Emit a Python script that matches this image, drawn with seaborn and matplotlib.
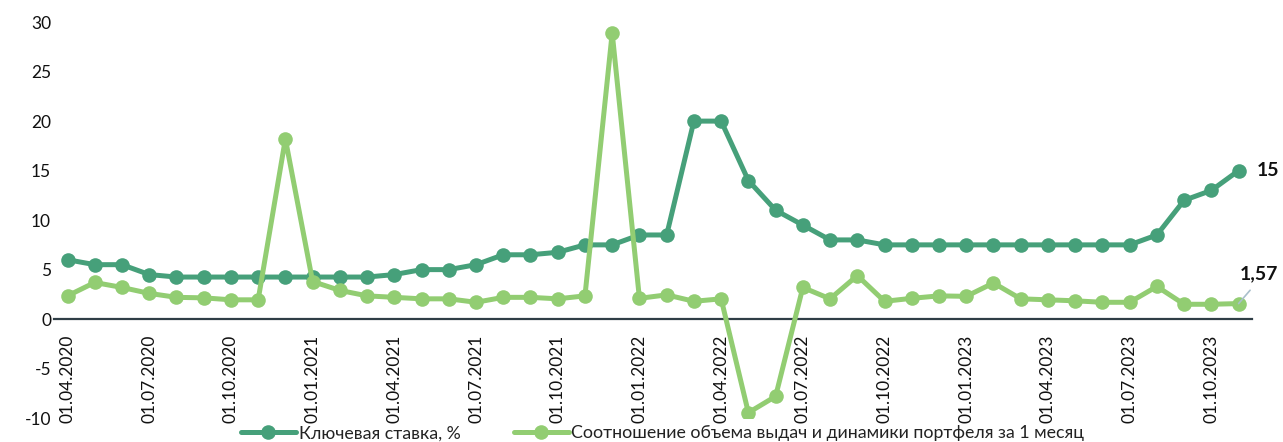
import matplotlib
matplotlib.use("Agg")
import matplotlib.pyplot as plt
import seaborn as sns
import pandas as pd

# Monthly observation dates, 01.04.2020 .. 01.11.2023
dates = pd.date_range("2020-04-01", "2023-11-01", freq="MS")
date_labels = [d.strftime("%d.%m.%Y") for d in dates]

key_rate = [6, 5.5, 5.5, 4.5, 4.25, 4.25, 4.25, 4.25, 4.25,
            4.25, 4.25, 4.25, 4.5, 5, 5, 5.5, 6.5, 6.5, 6.75, 7.5, 7.5,
            8.5, 8.5, 20, 20, 14, 11, 9.5, 8, 8, 7.5, 7.5, 7.5,
            7.5, 7.5, 7.5, 7.5, 7.5, 7.5, 7.5, 8.5, 12, 13, 15]

issue_ratio = [2.35, 3.7, 3.2, 2.6, 2.2, 2.15, 1.95, 1.95, 18.2,
               3.8, 2.9, 2.35, 2.2, 2.05, 2.05, 1.7, 2.2, 2.2, 2.05, 2.35, 28.9,
               2.1, 2.45, 1.8, 2.05, -9.45, -7.8, 3.2, 2.05, 4.4, 1.8, 2.1, 2.35,
               2.3, 3.65, 2.05, 1.95, 1.85, 1.7, 1.7, 3.3, 1.5, 1.5, 1.57]

series_names = ["Ключевая ставка, %",
                "Соотношение объема выдач и динамики портфеля за 1 месяц"]
colors = ["#46A07A", "#92CD72"]

n = len(dates)
df = pd.DataFrame({
    "idx": list(range(n)) * 2,
    "value": key_rate + issue_ratio,
    "series": [series_names[0]] * n + [series_names[1]] * n,
})

sns.set_theme(style="white")
plt.rcParams["font.family"] = ["Lato", "DejaVu Sans"]

fig = plt.figure(figsize=(12.83, 4.42), dpi=100)
ax = fig.add_axes([0.042, 0.054, 0.934, 0.896])

sns.lineplot(data=df, x="idx", y="value", hue="series", palette=colors,
             hue_order=series_names, marker="o", markersize=10.5,
             markeredgewidth=0, linewidth=3.6, ax=ax, legend=True)

ax.set_xlim(-0.5, n - 0.5)
ax.set_ylim(-10, 30)
ax.set_xlabel("")
ax.set_ylabel("")

# Category axis sits on the zero line
for side in ["top", "right", "left"]:
    ax.spines[side].set_visible(False)
ax.spines["bottom"].set_position(("data", 0))
ax.spines["bottom"].set_color("#2F3E46")
ax.spines["bottom"].set_linewidth(1.6)
ax.spines["bottom"].set_zorder(1)

ax.set_yticks(range(-10, 31, 5))
ax.set_yticklabels([str(v) for v in range(-10, 31, 5)])
tick_pos = list(range(0, n, 3))
ax.set_xticks(tick_pos)
ax.set_xticklabels([date_labels[i] for i in tick_pos])

ax.tick_params(axis="both", length=0, labelsize=12.5, labelcolor="#111111")
ax.tick_params(axis="x", pad=11, labelrotation=90)
ax.tick_params(axis="y", pad=2)
ax.grid(False)

# Value labels for the latest observations
ax.annotate(f"{key_rate[-1]:g}", xy=(n - 1, key_rate[-1]), xytext=(13, 0),
            textcoords="offset points", ha="left", va="center",
            fontsize=14, fontweight="bold", color="#111111")
ax.annotate(f"{issue_ratio[-1]:.2f}".replace(".", ","),
            xy=(n - 1, issue_ratio[-1]), xytext=(0.5, 15),
            textcoords="offset points", ha="left", va="bottom",
            fontsize=14, fontweight="bold", color="#111111",
            arrowprops=dict(arrowstyle="-", color="#A9BFCB", lw=1.2,
                            shrinkA=4, shrinkB=0,
                            relpos=(0.45, 0.0)))

leg = ax.legend(loc="center", bbox_to_anchor=(0.508, -0.038),
                ncol=2, frameon=False, fontsize=12.8, handlelength=3.1,
                columnspacing=3.0, handletextpad=0.15, borderaxespad=0,
                borderpad=0)
for t in leg.get_texts():
    t.set_color("#222222")

fig.savefig("out.png", dpi=100)
